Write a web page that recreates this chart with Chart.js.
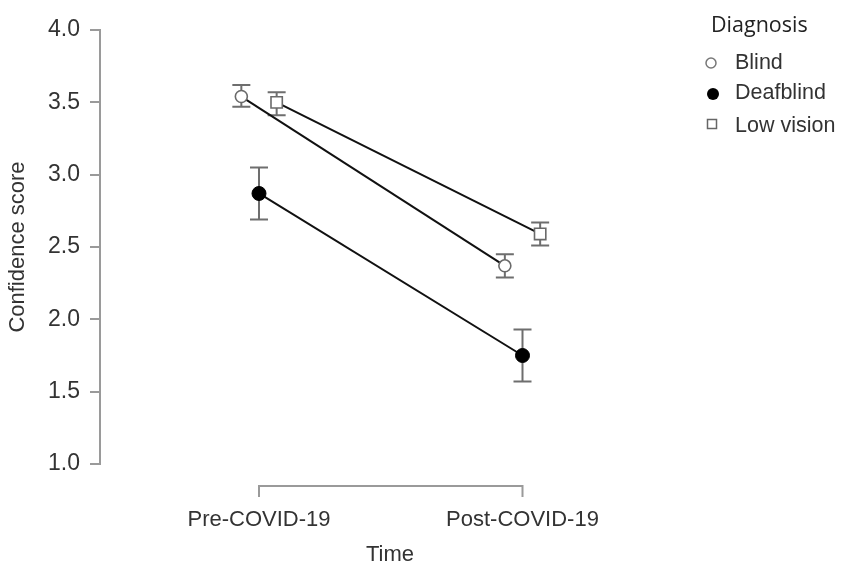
<!DOCTYPE html>
<html>
<head>
<meta charset="utf-8">
<script src="https://cdn.jsdelivr.net/npm/chart.js@4/dist/chart.umd.min.js"></script>
<style>
  html, body { margin: 0; padding: 0; background: #fff; }
  #wrap { width: 841px; height: 565px; }
</style>
</head>
<body>
<div id="wrap"><canvas id="c" width="841" height="565"></canvas></div>
<script>
// Time points on the x axis
const times = ['Pre-COVID-19', 'Post-COVID-19'];
// Y axis tick values
const yTicks = [1.0, 1.5, 2.0, 2.5, 3.0, 3.5, 4.0];

// Mean confidence score and error-bar limits per diagnosis group
const blindMean = [3.54, 2.37];
const blindLow  = [3.47, 2.29];
const blindHigh = [3.62, 2.45];

const deafblindMean = [2.87, 1.75];
const deafblindLow  = [2.69, 1.57];
const deafblindHigh = [3.05, 1.93];

const lowVisionMean = [3.50, 2.59];
const lowVisionLow  = [3.41, 2.51];
const lowVisionHigh = [3.57, 2.67];

const groups = ['Blind', 'Deafblind', 'Low vision'];

// horizontal dodge so the groups don't overlap at each time point
const dodge = [-0.067, 0, 0.067];

const AXIS_GREY = '#9a9a9a';
const TEXT = '#333333';
const FONT = '"Liberation Sans", Arial, sans-serif';

function pts(means, k) {
  return means.map((v, i) => ({ x: i + dodge[k], y: v }));
}

const datasets = [
  {
    label: groups[0],
    data: pts(blindMean, 0),
    errLow: blindLow, errHigh: blindHigh,
    borderColor: '#111', borderWidth: 2,
    pointStyle: 'circle', pointRadius: 6,
    pointBackgroundColor: '#fff', pointBorderColor: '#6a6a6a', pointBorderWidth: 1.6,
    showLine: true, order: 1
  },
  {
    label: groups[1],
    data: pts(deafblindMean, 1),
    errLow: deafblindLow, errHigh: deafblindHigh,
    borderColor: '#111', borderWidth: 2,
    pointStyle: 'circle', pointRadius: 7,
    pointBackgroundColor: '#000', pointBorderColor: '#000', pointBorderWidth: 1,
    showLine: true, order: 2
  },
  {
    label: groups[2],
    data: pts(lowVisionMean, 2),
    errLow: lowVisionLow, errHigh: lowVisionHigh,
    borderColor: '#111', borderWidth: 2,
    pointStyle: 'rect', pointRadius: 8,
    pointBackgroundColor: '#fff', pointBorderColor: '#6a6a6a', pointBorderWidth: 1.6,
    showLine: true, order: 0
  }
];

// error bars behind the markers
const errorBars = {
  id: 'errorBars',
  beforeDatasetsDraw(chart) {
    const ctx = chart.ctx;
    const ys = chart.scales.y;
    ctx.save();
    ctx.strokeStyle = '#6e6e6e';
    ctx.lineWidth = 2;
    chart.data.datasets.forEach((ds, i) => {
      const meta = chart.getDatasetMeta(i);
      meta.data.forEach((el, j) => {
        const x = el.x;
        const yl = ys.getPixelForValue(ds.errLow[j]);
        const yh = ys.getPixelForValue(ds.errHigh[j]);
        ctx.beginPath();
        ctx.moveTo(x, yl); ctx.lineTo(x, yh);
        ctx.moveTo(x - 9, yl); ctx.lineTo(x + 9, yl);
        ctx.moveTo(x - 9, yh); ctx.lineTo(x + 9, yh);
        ctx.stroke();
      });
    });
    ctx.restore();
  }
};

// detached x axis line spanning the two time points
const xAxisLine = {
  id: 'xAxisLine',
  afterDraw(chart) {
    const ctx = chart.ctx;
    const xs = chart.scales.x;
    const x0 = xs.getPixelForValue(0);
    const x1 = xs.getPixelForValue(times.length - 1);
    const y = 486;
    ctx.save();
    ctx.strokeStyle = AXIS_GREY;
    ctx.lineWidth = 2;
    ctx.beginPath();
    ctx.moveTo(x0, y + 11); ctx.lineTo(x0, y); ctx.lineTo(x1, y); ctx.lineTo(x1, y + 11);
    ctx.stroke();
    ctx.restore();
  }
};

// legend block on the right
const sideLegend = {
  id: 'sideLegend',
  afterDraw(chart) {
    const ctx = chart.ctx;
    ctx.save();
    ctx.fillStyle = '#222';
    ctx.textBaseline = 'alphabetic';
    ctx.textAlign = 'left';
    ctx.font = '21.5px "Open Sans", sans-serif';
    ctx.fillText('Diagnosis', 711, 32);

    const rows = [69, 99, 132];
    const mx = 712;
    ctx.font = '21.5px ' + FONT;
    ctx.fillStyle = TEXT;
    groups.forEach((g, i) => ctx.fillText(g, 735, rows[i]));

    // open circle
    ctx.lineWidth = 1.5;
    ctx.strokeStyle = '#777';
    ctx.fillStyle = '#fff';
    ctx.beginPath(); ctx.arc(mx - 1, 63, 5, 0, Math.PI * 2); ctx.fill(); ctx.stroke();
    // filled circle
    ctx.fillStyle = '#000';
    ctx.beginPath(); ctx.arc(mx + 1, 94, 6, 0, Math.PI * 2); ctx.fill();
    // open square
    ctx.strokeStyle = '#666';
    ctx.fillStyle = '#fff';
    ctx.fillRect(mx - 4.5, 119.5, 9, 9);
    ctx.strokeRect(mx - 4.5, 119.5, 9, 9);
    ctx.restore();
  }
};

new Chart(document.getElementById('c'), {
  type: 'scatter',
  data: { datasets },
  plugins: [errorBars, xAxisLine, sideLegend],
  options: {
    responsive: false,
    animation: false,
    layout: { padding: { left: 0, top: 30, right: 161, bottom: 0 } },
    plugins: { legend: { display: false }, tooltip: { enabled: false } },
    scales: {
      x: {
        type: 'linear',
        min: -0.6034,
        max: 1.5977,
        afterBuildTicks(scale) { scale.ticks = times.map((t, i) => ({ value: i })); },
        afterFit(scale) { scale.height = 101; },
        grid: { display: false, drawTicks: false },
        border: { display: false },
        ticks: {
          autoSkip: false, maxRotation: 0, padding: 43,
          color: TEXT, font: { family: FONT, size: 22 },
          callback: (v) => times[v]
        },
        title: {
          display: true, text: 'Time', color: TEXT,
          font: { family: FONT, size: 22 },
          padding: { top: 0, bottom: -3 }
        }
      },
      y: {
        min: 1, max: 4,
        afterBuildTicks(scale) { scale.ticks = yTicks.map(v => ({ value: v })); },
        afterFit(scale) { scale.width = 100; },
        grid: { drawOnChartArea: false, drawTicks: true, tickLength: 10, color: AXIS_GREY, lineWidth: 2 },
        border: { display: true, color: AXIS_GREY, width: 2 },
        ticks: {
          padding: 10, color: TEXT, font: { family: FONT, size: 23 },
          callback: (v) => Number(v).toFixed(1)
        },
        title: {
          display: true, text: 'Confidence score', color: TEXT,
          font: { family: FONT, size: 22 },
          padding: { top: 5, bottom: 0 }
        }
      }
    }
  }
});
</script>
</body>
</html>
